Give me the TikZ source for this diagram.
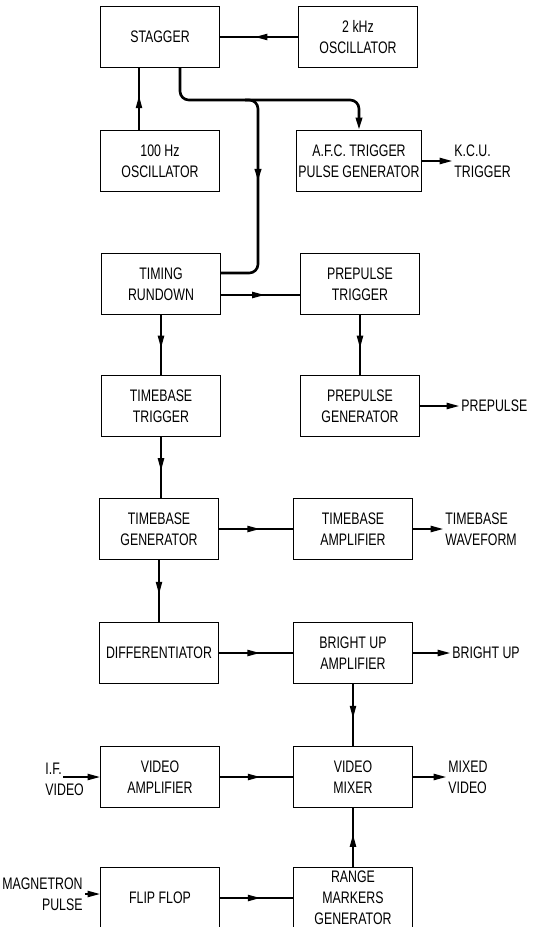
\documentclass[tikz,border=0pt]{standalone}
\usepackage{fontspec}
\setmainfont{Liberation Sans}[FakeStretch=0.74]
\usetikzlibrary{arrows.meta,decorations.markings}

\begin{document}
\begin{tikzpicture}[x=0.02cm,y=-0.02cm,line width=0.75pt,
    blk/.style={draw,minimum width=2.38cm,minimum height=1.22cm,align=center,inner sep=1pt,
      font=\fontsize{9.5}{12}\selectfont},
    lbl/.style={inner sep=1pt,font=\fontsize{9.5}{12}\selectfont},
    arr/.tip={Triangle[length=7pt,width=3.6pt]},
    midarrow/.style={postaction={decorate},
      decoration={markings,mark=at position #1 with {\arrow{arr}}}},
    midarrow/.default=0.55,
    outarrow/.style={-{arr}},
    bus/.style={line width=1.5pt,rounded corners=5pt}]
  \useasboundingbox (0,0) rectangle (537,927);

  \node[blk] (stag) at (160,37) {STAGGER};
  \node[blk] (khz)  at (358,37) {2 kHz\\OSCILLATOR};
  \node[blk] (hz)   at (160,161) {100 Hz\\OSCILLATOR};
  \node[blk] (afc)  at (359,161) {A.F.C. TRIGGER\\PULSE GENERATOR};
  \node[blk] (tim)  at (161,284) {TIMING\\RUNDOWN};
  \node[blk] (ptr)  at (360,284) {PREPULSE\\TRIGGER};
  \node[blk] (tbt)  at (161,406) {TIMEBASE\\TRIGGER};
  \node[blk] (pgen) at (360,406) {PREPULSE\\GENERATOR};
  \node[blk] (tbg)  at (159,529) {TIMEBASE\\GENERATOR};
  \node[blk] (tba)  at (353,529) {TIMEBASE\\AMPLIFIER};
  \node[blk] (dif)  at (159,653) {DIFFERENTIATOR};
  \node[blk] (bua)  at (353,653) {BRIGHT UP\\AMPLIFIER};
  \node[blk] (vamp) at (160,777) {VIDEO\\AMPLIFIER};
  \node[blk] (vmix) at (353,777) {VIDEO\\MIXER};
  \node[blk] (ff)   at (160,898) {FLIP FLOP};
  \node[blk] (rmg)  at (353,898) {RANGE\\MARKERS\\GENERATOR};

  \node[lbl,anchor=west,align=left] (kcu) at (452,161) {K.C.U.\\TRIGGER};
  \node[lbl,anchor=west] (ppl) at (459,406) {PREPULSE};
  \node[lbl,anchor=west,align=left] (tbw) at (443,529) {TIMEBASE\\WAVEFORM};
  \node[lbl,anchor=west] (bul) at (450,653) {BRIGHT UP};
  \node[lbl,anchor=west,align=left] (mxv) at (446,777) {MIXED\\VIDEO};
  \node[lbl,anchor=west,align=left] (ifv) at (43,779) {I.F.\\VIDEO};
  \node[lbl,anchor=east,align=right] (mag) at (85,894) {MAGNETRON\\PULSE};

  \coordinate (split) at (245,100);
  \coordinate (bend) at (258,273);
  \coordinate (ifin) at (63,777);

  \draw[midarrow] (khz) -- (stag);
  \draw[midarrow] ([xshift=-0.42cm]hz.north) -- ([xshift=-0.42cm]hz.north |- stag.south);
  \draw[bus,-{arr}] ([xshift=0.4cm]stag.south) |- (split) -| (afc.north);
  \draw[bus,midarrow=0.42] (split) -| (bend) -- (bend -| tim.east);
  \draw[outarrow] (afc.east) -- (kcu.west);
  \draw[midarrow] ([yshift=-0.22cm]tim.east) -- ([yshift=-0.22cm]tim.east -| ptr.west);
  \draw[midarrow] (tim) -- (tim |- tbt.north);
  \draw[midarrow] (ptr) -- (pgen);
  \draw[outarrow] (pgen.east) -- (ppl.west);
  \draw[midarrow] (tbt.south) -- (tbt.south |- tbg.north);
  \draw[midarrow] (tbg) -- (tba);
  \draw[outarrow] (tba.east) -- (tbw.west);
  \draw[midarrow] (tbg) -- (dif);
  \draw[midarrow] (dif) -- (bua);
  \draw[outarrow] (bua.east) -- (bul.west);
  \draw[midarrow] (bua) -- (vmix);
  \draw[outarrow] (ifin) -- (ifin -| vamp.west);
  \draw[midarrow] (vamp) -- (vmix);
  \draw[outarrow] (vmix.east) -- (mxv.west);
  \draw[outarrow] (mag.east) -- (mag.east -| ff.west);
  \draw[midarrow] (ff) -- (rmg);
  \draw[midarrow] (rmg) -- (vmix);
\end{tikzpicture}
\end{document}
